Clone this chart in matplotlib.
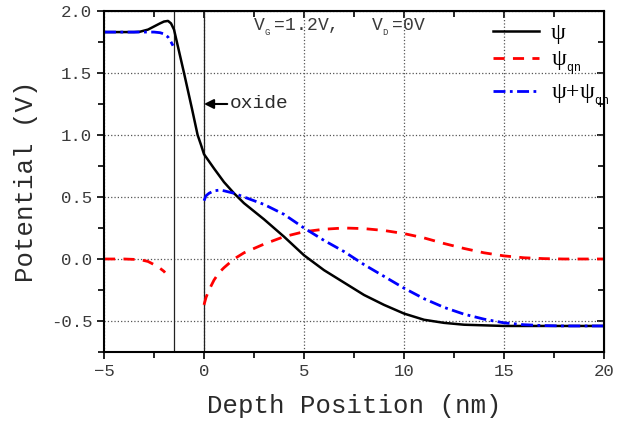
import matplotlib
matplotlib.use("Agg")
import matplotlib.pyplot as plt

plt.rcParams['font.family'] = ['Liberation Mono', 'DejaVu Sans Mono']
plt.rcParams['mathtext.fontset'] = 'custom'
plt.rcParams['mathtext.rm'] = 'Liberation Mono'
plt.rcParams['mathtext.it'] = 'Liberation Mono'

# psi (black), gate side and silicon side
x_psi = [-5, -4, -3.5, -3.2, -2.8, -2.5, -2.2, -2.0, -1.8, -1.65, -1.5, -1.3, -1.0, -0.6, -0.32, -0.15, 0,
         0.5, 1, 1.5, 2, 3, 4, 5, 6, 7, 8, 9, 10, 11, 12, 13, 14, 15, 17, 20]
psi = [1.83, 1.83, 1.83, 1.833, 1.85, 1.875, 1.90, 1.915, 1.92, 1.90, 1.85, 1.71, 1.50, 1.21, 1.0, 0.92, 0.845,
       0.73, 0.62, 0.53, 0.45, 0.32, 0.18, 0.03, -0.09, -0.19, -0.29, -0.37, -0.44, -0.49, -0.515, -0.53,
       -0.535, -0.54, -0.54, -0.54]

# psi_qn (red), two pieces
x_qn_gate = [-5, -4, -3.2, -2.8, -2.5, -2.2, -2.0, -1.95]
qn_gate = [0.0, 0.0, -0.005, -0.02, -0.045, -0.075, -0.10, -0.11]
x_qn_si = [0, 0.1, 0.25, 0.5, 0.75, 1, 1.5, 2, 3, 4, 5, 6, 7, 8, 9, 10, 11, 12, 13, 14, 15, 16, 17, 18, 20]
qn_si = [-0.37, -0.31, -0.25, -0.17, -0.11, -0.07, 0.0, 0.05, 0.12, 0.18, 0.22, 0.24, 0.25, 0.245, 0.23,
         0.205, 0.17, 0.125, 0.085, 0.05, 0.025, 0.01, 0.003, 0.0, 0.0]

# psi + psi_qn (blue), two pieces
x_sum_gate = [-5, -4, -3, -2.5, -2.2, -2.0, -1.8, -1.65, -1.55]
sum_gate = [1.83, 1.83, 1.83, 1.83, 1.825, 1.815, 1.79, 1.75, 1.72]
x_sum_si = [0, 0.1, 0.25, 0.5, 0.8, 1, 1.5, 2, 3, 4, 5, 6, 7, 8, 9, 10, 11, 12, 13, 14, 15, 16, 17, 18, 20]
sum_si = [0.47, 0.51, 0.53, 0.55, 0.556, 0.55, 0.53, 0.50, 0.44, 0.36, 0.25, 0.15, 0.06, -0.045, -0.14,
          -0.235, -0.32, -0.39, -0.445, -0.485, -0.515, -0.53, -0.537, -0.54, -0.54]

fig = plt.figure(figsize=(6.27, 4.21), dpi=100)
ax = fig.add_axes([0.1659, 0.1639, 0.7974, 0.81])

ax.grid(True, which='major', linestyle=':', color='#555555', linewidth=0.9)
ax.axvline(-1.5, color='#222222', linewidth=0.9)
ax.axvline(0, color='#222222', linewidth=0.9)

red_dash = (4, 3)
blue_dash = (4.3, 1.6, 1, 1.6)
ax.plot(x_psi, psi, color='black', linewidth=1.8, label='ψ')
ax.plot(x_qn_gate, qn_gate, color='red', linewidth=2, dashes=red_dash)
ax.plot(x_qn_si, qn_si, color='red', linewidth=2, dashes=red_dash, label='ψ$_{_{qn}}$')
ax.plot(x_sum_gate, sum_gate, color='blue', linewidth=2, dashes=blue_dash)
ax.plot(x_sum_si, sum_si, color='blue', linewidth=2, dashes=blue_dash, label='ψ+ψ$_{_{qn}}$')

ax.set_xlim(-5, 20)
ax.set_ylim(-0.75, 2.0)
ax.set_xticks([-5, 0, 5, 10, 15, 20])
ax.set_xticks([-2.5, 2.5, 7.5, 12.5, 17.5], minor=True)
ax.set_yticks([-0.5, 0.0, 0.5, 1.0, 1.5, 2.0])
ax.set_yticklabels(['-0.5', '0.0', '0.5', '1.0', '1.5', '2.0'])
ax.set_yticks([-0.75, -0.25, 0.25, 0.75, 1.25, 1.75], minor=True)
ax.tick_params(axis='both', which='both', direction='out', labelsize=12.5, labelcolor='#3a3a3a', width=1.2)
ax.tick_params(which='major', length=5)
ax.tick_params(which='minor', length=4)
for s in ax.spines.values():
    s.set_linewidth(1.5)

# inward mirror ticks on top and right
ax_top = ax.secondary_xaxis('top')
ax_top.set_xticks([-5, 0, 5, 10, 15, 20])
ax_top.set_xticks([-2.5, 2.5, 7.5, 12.5, 17.5], minor=True)
ax_top.tick_params(which='both', direction='in', labeltop=False, width=1.2)
ax_top.tick_params(which='major', length=5)
ax_top.tick_params(which='minor', length=4)
ax_right = ax.secondary_yaxis('right')
ax_right.set_yticks([-0.5, 0.0, 0.5, 1.0, 1.5, 2.0])
ax_right.set_yticks([-0.75, -0.25, 0.25, 0.75, 1.25, 1.75], minor=True)
ax_right.tick_params(which='both', direction='in', labelright=False, width=1.2)
ax_right.tick_params(which='major', length=5)
ax_right.tick_params(which='minor', length=4)

ax.set_xlabel('Depth Position (nm)', fontsize=18.5, color='#2a2a2a', labelpad=11)
ax.set_ylabel('Potential (V)', fontsize=18.5, color='#2a2a2a', labelpad=9)

ax.text(2.45, 1.87, 'V$_{_G}\\ $=1.2V,   V$_{_D}\\ $=0V', fontsize=13, color='#3a3a3a', va='center')
ax.annotate('oxide', xy=(0, 1.25), xytext=(1.3, 1.25), fontsize=14, color='#2a2a2a', va='center',
            arrowprops=dict(arrowstyle='-|>', color='black', lw=1.5, shrinkA=0, shrinkB=0, mutation_scale=14))

ax.legend(loc='upper left', bbox_to_anchor=(0.735, 1.028), frameon=False,
          prop={'family': 'Liberation Serif', 'size': 17},
          handlelength=1.97, labelspacing=0.22, handletextpad=0.5)

fig.savefig('out.png', dpi=100)
